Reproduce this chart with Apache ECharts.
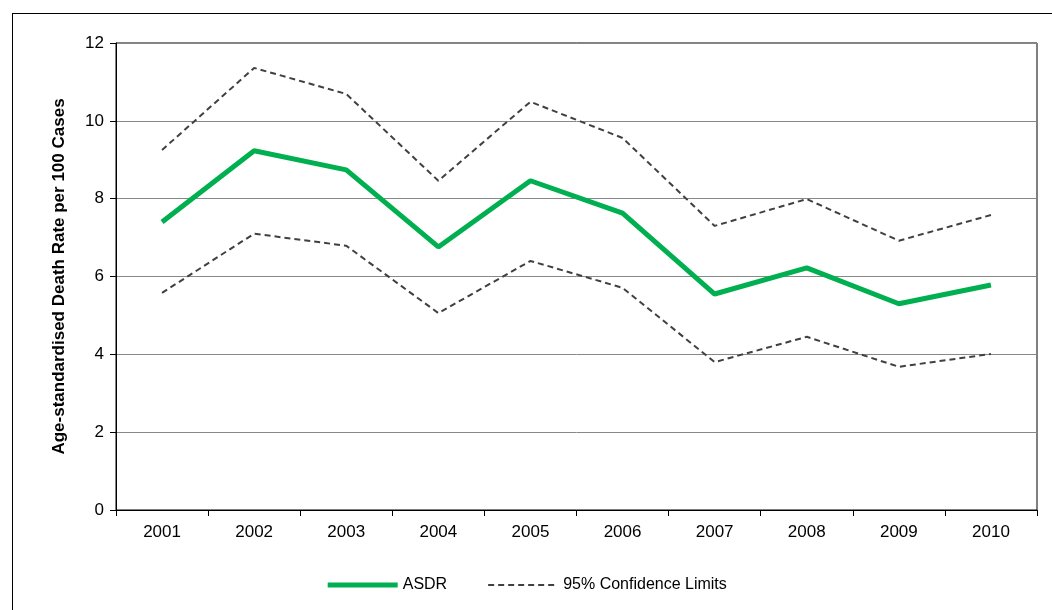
<!DOCTYPE html>
<html>
<head>
<meta charset="utf-8">
<script src="https://cdn.jsdelivr.net/npm/echarts@6/dist/echarts.min.js"></script>
<style>
  html, body { margin: 0; padding: 0; background: #fff; }
  #frame { position: absolute; left: 12px; top: 13px; width: 1060px; height: 620px; border: 1px solid #000; }
  #chart { width: 1052px; height: 610px; }
</style>
</head>
<body>
<div id="frame"></div>
<div id="chart"></div>
<script>
const years = ['2001', '2002', '2003', '2004', '2005', '2006', '2007', '2008', '2009', '2010'];
const asdr = [7.40, 9.23, 8.74, 6.76, 8.46, 7.63, 5.55, 6.22, 5.30, 5.78];
const upper = [9.25, 11.36, 10.69, 8.46, 10.49, 9.56, 7.30, 7.99, 6.92, 7.58];
const lower = [5.58, 7.10, 6.79, 5.06, 6.40, 5.71, 3.80, 4.45, 3.68, 4.01];

const font = 'Liberation Sans';
const ciName = '95% Confidence Limits';

function ciSeries(data) {
    return {
        name: ciName,
        type: 'line',
        data: data,
        symbol: 'none',
        lineStyle: { color: '#404040', width: 2, type: [6, 4] },
        itemStyle: { color: '#404040' },
        z: 2
    };
}

var myChart = echarts.init(document.getElementById('chart'));
myChart.setOption({
    animation: false,
    textStyle: { fontFamily: font },
    grid: { left: 116, right: 15, top: 43, bottom: 100, show: true, borderColor: '#000', borderWidth: 1 },
    legend: {
        bottom: 12,
        left: 'center',
        itemWidth: 70,
        itemHeight: 10,
        itemGap: 40,
        itemStyle: { opacity: 0 },
        textStyle: { fontFamily: font, fontSize: 16, color: '#000' },
        data: [
            { name: 'ASDR', lineStyle: { width: 5 } },
            { name: ciName, lineStyle: { width: 2 } }
        ]
    },
    xAxis: {
        type: 'category',
        data: years,
        boundaryGap: true,
        axisLine: { lineStyle: { color: '#000' } },
        axisTick: { show: true, alignWithLabel: false, length: 6, lineStyle: { color: '#000' } },
        axisLabel: { color: '#000', fontSize: 17, margin: 14 }
    },
    yAxis: {
        type: 'value',
        min: 0,
        max: 12,
        interval: 2,
        name: 'Age-standardised Death Rate per 100 Cases',
        nameLocation: 'middle',
        nameGap: 48,
        nameTextStyle: { color: '#000', fontSize: 17, fontWeight: 'bold' },
        axisLine: { show: true, lineStyle: { color: '#000' } },
        axisTick: { show: true, inside: false, length: 6, lineStyle: { color: '#000' } },
        axisLabel: { color: '#000', fontSize: 17, margin: 12 },
        splitLine: { lineStyle: { color: '#888' } }
    },
    series: [
        {
            name: 'ASDR',
            type: 'line',
            data: asdr,
            symbol: 'none',
            lineStyle: { color: '#00b050', width: 5 },
            itemStyle: { color: '#00b050' },
            z: 3
        },
        ciSeries(upper),
        ciSeries(lower)
    ]
});
</script>
</body>
</html>
